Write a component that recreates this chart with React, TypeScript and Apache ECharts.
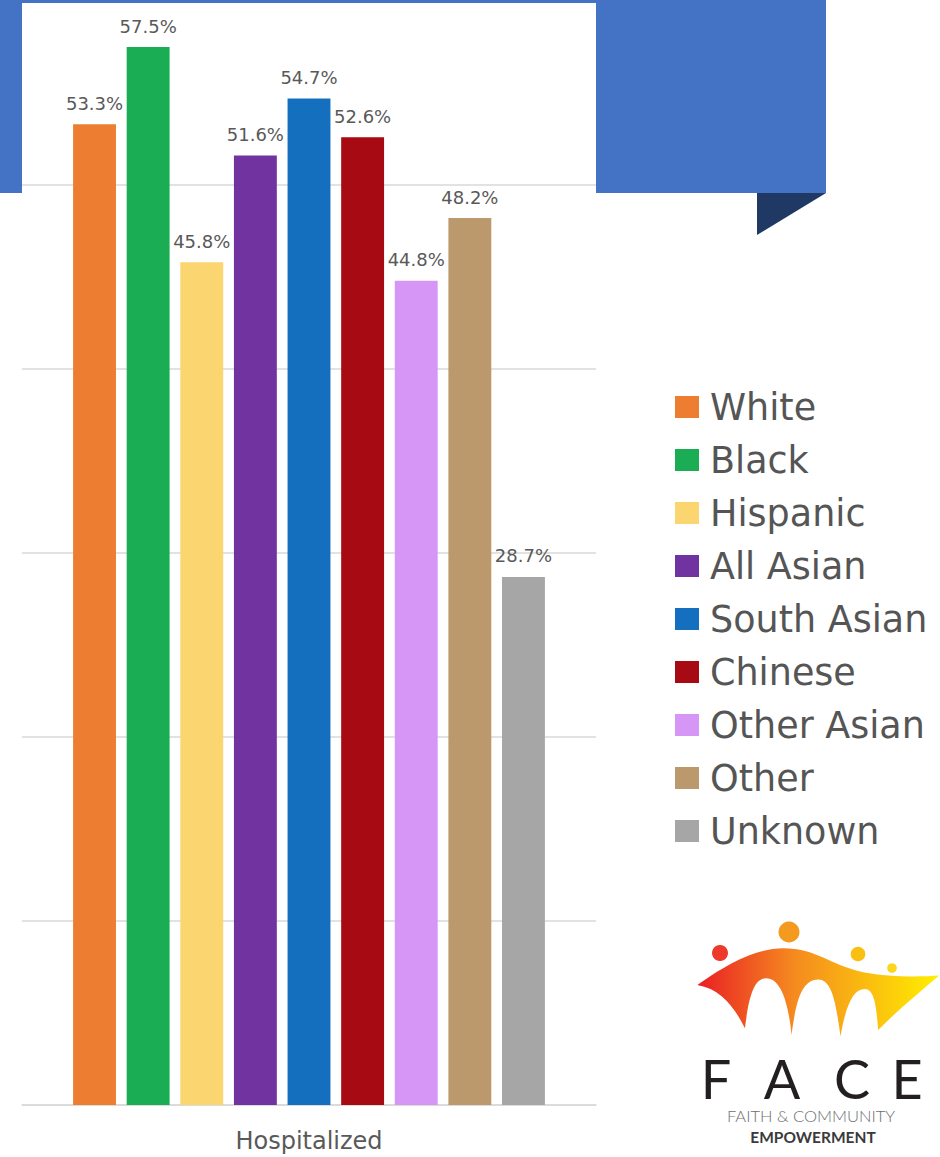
import React, { useEffect, useRef } from "react";
import * as echarts from "echarts";

const categories = ["Hospitalized"];
const groups = ["White", "Black", "Hispanic", "All Asian", "South Asian", "Chinese", "Other Asian", "Other", "Unknown"];
const values = [53.3, 57.5, 45.8, 51.6, 54.7, 52.6, 44.8, 48.2, 28.7];
const colors = ["#ED7D31", "#1AAD54", "#FBD56F", "#7133A0", "#1470BF", "#A80A13", "#D596F5", "#BB996D", "#A6A6A6"];
const yTicks = [0, 10, 20, 30, 40, 50, 60];

const SWOOSH =
  "M 22 210 C 80 170 180 100 280 100 C 380 100 420 150 520 172 C 600 188 700 186 748 182 " +
  "C 680 240 620 290 565 345 C 560 280 555 222 525 222 C 490 222 468 270 452 365 " +
  "C 440 280 430 194 385 194 C 335 194 318 260 305 360 C 295 260 272 190 228 190 " +
  "C 188 190 175 260 165 340 C 130 270 90 222 22 210 Z";

echarts.graphic.registerShape("swoosh", (echarts.graphic as any).extendPath(SWOOSH, {}));

export default function App() {
  const ref = useRef<HTMLDivElement>(null);
  useEffect(() => {
    document.body.style.margin = "0";
    const chart = echarts.init(ref.current!, undefined, { renderer: "svg" });
    const series = groups.map((g, i) => ({
      name: g,
      type: "bar",
      data: [values[i]],
      itemStyle: { color: colors[i] },
      barGap: "25%",
      barCategoryGap: "17.8%",
      label: {
        show: true,
        position: "top",
        distance: 12,
        formatter: (p: any) => p.value.toFixed(1) + "%",
        fontFamily: "DejaVu Sans",
        fontSize: 18,
        color: "#595959",
      },
    }));
    chart.setOption({
      animation: false,
      backgroundColor: "#ffffff",
      grid: { left: 22, right: 344, top: 1, bottom: 52, containLabel: false },
      xAxis: {
        type: "category",
        data: categories,
        axisTick: { show: false },
        axisLine: { lineStyle: { color: "#d9d9d9", width: 1.5 } },
        axisLabel: { fontFamily: "DejaVu Sans", fontSize: 24, color: "#595959", margin: 24 },
      },
      yAxis: {
        type: "value",
        min: yTicks[0],
        max: yTicks[yTicks.length - 1],
        interval: 10,
        axisLabel: { show: false },
        axisLine: { show: false },
        axisTick: { show: false },
        splitLine: { lineStyle: { color: "#d9d9d9", width: 1.5 } },
      },
      legend: {
        orient: "vertical",
        left: 670,
        top: 382,
        itemWidth: 24,
        itemHeight: 22,
        itemGap: 13,
        icon: "rect",
        data: groups,
        textStyle: { fontFamily: "DejaVu Sans", fontSize: 36.5, color: "#555555", lineHeight: 40, padding: [0, 0, 0, 6] },
      },
      graphic: {
        elements: [
          { type: "rect", z: -10, shape: { x: 0, y: 0, width: 826, height: 193 }, style: { fill: "#4472C4" } },
          { type: "rect", z: -9, shape: { x: 22, y: 3, width: 574, height: 1154 }, style: { fill: "#ffffff" } },
          { type: "rect", z: 50, shape: { x: 22, y: 0, width: 574, height: 3 }, style: { fill: "#4472C4" } },
          { type: "polygon", z: 50, shape: { points: [[757, 193], [826, 193], [757, 235]] }, style: { fill: "#203864" } },
          {
            type: "swoosh",
            z: 50,
            x: 690,
            y: 915,
            scaleX: 1 / 3,
            scaleY: 1 / 3,
            style: {
              fill: new echarts.graphic.LinearGradient(0, 0, 1, 0, [
                { offset: 0, color: "#E91E25" },
                { offset: 0.4, color: "#F58A1F" },
                { offset: 1, color: "#FFEF00" },
              ]),
            },
          },
          { type: "circle", z: 50, shape: { cx: 720, cy: 953, r: 8 }, style: { fill: "#EE3A2A" } },
          { type: "circle", z: 50, shape: { cx: 789, cy: 932, r: 10.5 }, style: { fill: "#F49A1E" } },
          { type: "circle", z: 50, shape: { cx: 858, cy: 954, r: 7.3 }, style: { fill: "#F9C013" } },
          { type: "circle", z: 50, shape: { cx: 892, cy: 968, r: 4.8 }, style: { fill: "#FAD71B" } },
          { type: "text", z: 50, x: 716, y: 1078, style: { text: "F", font: "normal 54px Lato", fill: "#231F20", align: "center", verticalAlign: "middle" } },
          { type: "text", z: 50, x: 782, y: 1078, style: { text: "A", font: "normal 54px Lato", fill: "#231F20", align: "center", verticalAlign: "middle" } },
          { type: "text", z: 50, x: 852, y: 1078, style: { text: "C", font: "normal 54px Lato", fill: "#231F20", align: "center", verticalAlign: "middle" } },
          { type: "text", z: 50, x: 907, y: 1078, style: { text: "E", font: "normal 54px Lato", fill: "#231F20", align: "center", verticalAlign: "middle" } },
          { type: "text", z: 50, x: 811, y: 1116, style: { text: "FAITH & COMMUNITY", font: "300 16.5px Lato", fill: "#6D6E71", align: "center", verticalAlign: "middle" } },
          { type: "text", z: 50, x: 813, y: 1136.5, style: { text: "EMPOWERMENT", font: "bold 15.5px Lato", fill: "#3A3A3A", align: "center", verticalAlign: "middle" } },
        ],
      },
      series,
    });
    return () => chart.dispose();
  }, []);
  return <div ref={ref} style={{ width: 940, height: 1157 }} />;
}
